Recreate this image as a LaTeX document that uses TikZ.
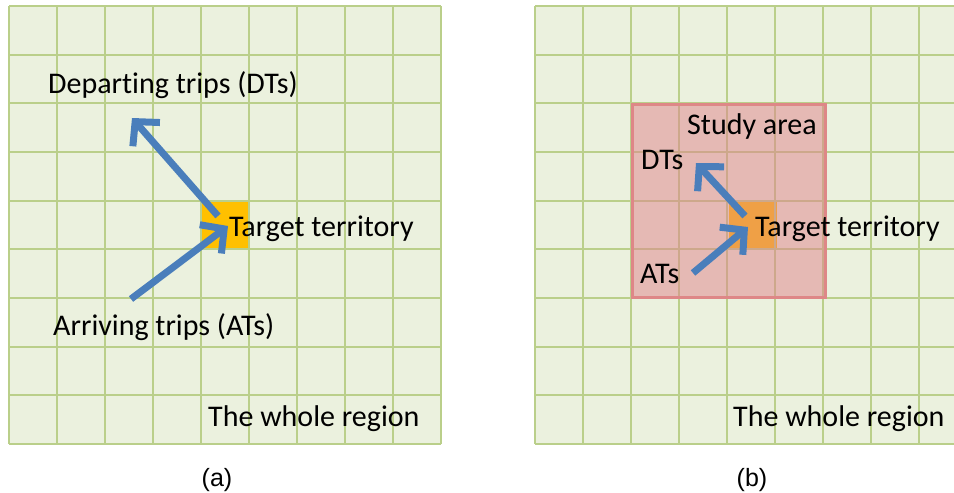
\documentclass[tikz,border=0pt]{standalone}
\usepackage{fontspec}
\setmainfont{Carlito}[Ligatures=NoCommon]
\newfontfamily\capfont{Liberation Sans}
\usetikzlibrary{arrows.meta}
\definecolor{gridfill}{RGB}{235,241,222}
\definecolor{gridline}{RGB}{186,207,138}
\definecolor{targetorange}{RGB}{255,192,0}
\definecolor{studyred}{RGB}{225,130,140}
\definecolor{studyedge}{RGB}{222,135,135}
\definecolor{tripblue}{RGB}{74,126,187}
\tikzset{
  gridline/.style={draw=gridline, line width=2pt},
  label/.style={anchor=base west, inner sep=0pt, font=\fontsize{30}{34}\selectfont, text=black},
  caption/.style={inner sep=0pt, font=\capfont\fontsize{25}{29}\selectfont},
  trip/.style={draw=tripblue, line width=7pt,
    -{Straight Barb[length=17pt, width=36pt, line width=7pt]}},
}
\begin{document}
\begin{tikzpicture}[x=1pt, y=-1pt]
\useasboundingbox (0,0) rectangle (954,493);

% ---- left panel: the whole region ----
\fill[gridfill] (9,6) rectangle (441,444);
\fill[targetorange] (201,200) rectangle (249,249);
\foreach \i in {0,...,9} {
  \draw[gridline] ({9+48*\i},6) -- ({9+48*\i},444);
  \draw[gridline] (9,{6+48.67*\i}) -- (441,{6+48.67*\i});
}

\coordinate (aDtail) at (218,216);
\coordinate (aDtip)  at (132,118);
\coordinate (aAtail) at (131,299);
\coordinate (aAtip)  at (228,226);
\draw[trip] (aDtail) -- (aDtip);
\draw[trip] (aAtail) -- (aAtip);

\node[label] (aDT) at (48,93)   {Departing trips (DTs)};
\node[label] (aTT) at (229,236) {Target territory};
\node[label] (aAT) at (53,335)  {Arriving trips (ATs)};
\node[label] (aWR) at (208,426) {The whole region};
\node[caption] (capa) at (217,480) {(a)};

% ---- right panel: study area inside the whole region ----
\begin{scope}
\clip (0,0) rectangle (954,493);
\fill[gridfill] (535,6) rectangle (967,444);
\fill[targetorange] (729,200) rectangle (777,249);
\foreach \i in {0,...,9} {
  \draw[gridline] ({535+48*\i},6) -- ({535+48*\i},444);
  \draw[gridline] (535,{6+48.67*\i}) -- (967,{6+48.67*\i});
}
\end{scope}
\fill[studyred, fill opacity=0.5] (632,104) rectangle (825,297);
\draw[studyedge, line width=3pt] (632,104) rectangle (825,297);

\coordinate (bDtail) at (745,216);
\coordinate (bDtip)  at (696,163);
\coordinate (bAtail) at (693,273);
\coordinate (bAtip)  at (748,227);
\draw[trip] (bDtail) -- (bDtip);
\draw[trip] (bAtail) -- (bAtip);

\node[label] (bSA) at (687,134) {Study area};
\node[label] (bDT) at (641,169) {DTs};
\node[label] (bTT) at (755,236) {Target territory};
\node[label] (bAT) at (640,283) {ATs};
\node[label] (bWR) at (733,426) {The whole region};
\node[caption] (capb) at (752,480) {(b)};
\end{tikzpicture}
\end{document}
